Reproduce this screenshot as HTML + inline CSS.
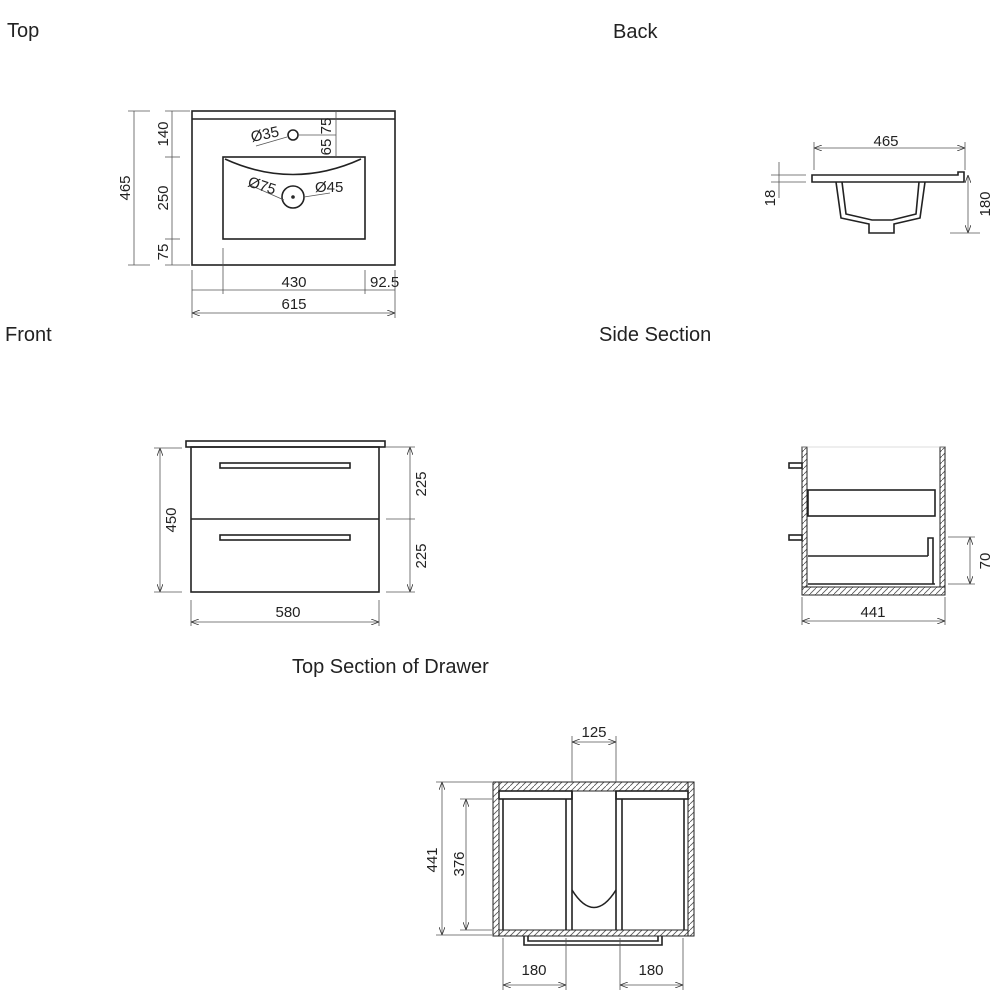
<!DOCTYPE html>
<html><head><meta charset="utf-8"><style>
html,body{margin:0;padding:0;background:#fff;}
svg{display:block;}
.t{font-family:"Liberation Sans",sans-serif;font-size:20px;fill:#222;}
.d{font-family:"Liberation Sans",sans-serif;font-size:15px;fill:#222;}
.k{stroke:#222;fill:none;stroke-width:1.6;}
.hz{stroke:#222;stroke-width:1;fill:url(#hx);}
.l{stroke:#555;fill:none;stroke-width:0.8;}
.h{stroke:#555;stroke-width:0.8;}
</style></head><body>
<svg width="1000" height="1000" viewBox="0 0 1000 1000" xmlns="http://www.w3.org/2000/svg">
<defs>
<pattern id="hx" width="6" height="6" patternUnits="userSpaceOnUse"><rect width="6" height="6" fill="#fff"/><path d="M-1 7L7 -1" class="h"/></pattern>
<marker id="a" markerWidth="8" markerHeight="6" refX="8" refY="3" orient="auto-start-reverse" markerUnits="userSpaceOnUse"><path d="M0 0L8 3L0 6" fill="none" stroke="#333" stroke-width="0.8"/></marker>
</defs>
<text class="t" x="7" y="37">Top</text>
<text class="t" x="613" y="38">Back</text>
<text class="t" x="5" y="341">Front</text>
<text class="t" x="599" y="341">Side Section</text>
<text class="t" x="292" y="673">Top Section of Drawer</text>

<!-- TOP VIEW -->
<rect class="k" x="192" y="111" width="203" height="154"/>
<line class="k" x1="192" y1="119" x2="395" y2="119" stroke-width="1.2"/>
<rect class="k" x="223" y="157" width="142" height="82"/>
<path class="k" d="M225 159 Q293 190 361 159" stroke-width="1.2"/>
<circle class="k" cx="293" cy="135" r="5" stroke-width="1"/>
<circle class="k" cx="293" cy="197" r="11" stroke-width="1.2"/>
<circle class="k" cx="293" cy="197" r="1" stroke-width="1"/>
<line class="l" x1="298" y1="135" x2="336" y2="135"/>
<line class="l" x1="256" y1="146" x2="287" y2="137"/>
<line class="l" x1="250" y1="185" x2="284" y2="200"/>
<line class="l" x1="304" y1="197" x2="330" y2="193"/>
<text class="d" x="252" y="142" transform="rotate(-12 252 142)">Ø35</text>
<text class="d" x="247" y="186" transform="rotate(18 247 186)">Ø75</text>
<text class="d" x="315" y="192">Ø45</text>
<line class="l" x1="336" y1="111" x2="336" y2="157"/>
<text class="d" x="0" y="0" transform="translate(331 126) rotate(-90)" text-anchor="middle">75</text>
<text class="d" x="0" y="0" transform="translate(331 147) rotate(-90)" text-anchor="middle">65</text>
<line class="l" x1="134" y1="111" x2="134" y2="265"/>
<line class="l" x1="128" y1="111" x2="150" y2="111"/><line class="l" x1="128" y1="265" x2="150" y2="265"/>
<text class="d" transform="translate(130 188) rotate(-90)" text-anchor="middle">465</text>
<line class="l" x1="172" y1="111" x2="172" y2="265"/>
<line class="l" x1="165" y1="111" x2="190" y2="111"/><line class="l" x1="165" y1="157" x2="180" y2="157"/>
<line class="l" x1="165" y1="239" x2="180" y2="239"/><line class="l" x1="165" y1="265" x2="190" y2="265"/>
<text class="d" transform="translate(168 134) rotate(-90)" text-anchor="middle">140</text>
<text class="d" transform="translate(168 198) rotate(-90)" text-anchor="middle">250</text>
<text class="d" transform="translate(168 252) rotate(-90)" text-anchor="middle">75</text>
<line class="l" x1="223" y1="248" x2="223" y2="294"/>
<line class="l" x1="365" y1="270" x2="365" y2="294"/>
<line class="l" x1="192" y1="270" x2="192" y2="318"/>
<line class="l" x1="395" y1="270" x2="395" y2="318"/>
<line class="l" x1="192" y1="290" x2="395" y2="290"/>
<text class="d" x="294" y="287" text-anchor="middle">430</text>
<text class="d" x="370" y="287">92.5</text>
<line class="l" x1="192" y1="313" x2="395" y2="313" marker-start="url(#a)" marker-end="url(#a)"/>
<text class="d" x="294" y="309" text-anchor="middle">615</text>

<!-- BACK -->
<line class="l" x1="814" y1="148" x2="965" y2="148" marker-start="url(#a)" marker-end="url(#a)"/>
<line class="l" x1="814" y1="142" x2="814" y2="170"/><line class="l" x1="965" y1="142" x2="965" y2="170"/>
<text class="d" x="886" y="146" text-anchor="middle">465</text>
<path class="k" d="M812 175 L958 175 L958 172 L964 172 L964 182 L812 182 Z" stroke-width="1.3"/>
<path class="k" d="M836 182 L841 218 L869 224 L869 233 L894 233 L894 224 L920 218 L925 182" stroke-width="1.3"/>
<path class="k" d="M842 182 L846 214 L872 220 L892 220 L916 214 L919 182" stroke-width="1"/>
<line class="l" x1="779" y1="162" x2="779" y2="198"/>
<line class="l" x1="771" y1="175" x2="806" y2="175"/><line class="l" x1="771" y1="182" x2="806" y2="182"/>
<text class="d" transform="translate(775 198) rotate(-90)" text-anchor="middle">18</text>
<line class="l" x1="968" y1="175" x2="968" y2="233" marker-start="url(#a)" marker-end="url(#a)"/>
<line class="l" x1="950" y1="233" x2="980" y2="233"/>
<text class="d" transform="translate(990 204) rotate(-90)" text-anchor="middle">180</text>

<!-- FRONT -->
<rect class="k" x="186" y="441" width="199" height="6" stroke-width="1.3"/>
<rect class="k" x="191" y="447" width="188" height="145"/>
<line class="k" x1="191" y1="519" x2="379" y2="519"/>
<rect class="k" x="220" y="463" width="130" height="5" stroke-width="1.2"/>
<rect class="k" x="220" y="535" width="130" height="5" stroke-width="1.2"/>
<line class="l" x1="160" y1="448" x2="160" y2="592" marker-start="url(#a)" marker-end="url(#a)"/>
<line class="l" x1="154" y1="448" x2="182" y2="448"/><line class="l" x1="154" y1="592" x2="182" y2="592"/>
<text class="d" transform="translate(176 520) rotate(-90)" text-anchor="middle">450</text>
<line class="l" x1="410" y1="447" x2="410" y2="592" marker-start="url(#a)" marker-end="url(#a)"/>
<line class="l" x1="386" y1="447" x2="415" y2="447"/><line class="l" x1="386" y1="519" x2="415" y2="519"/><line class="l" x1="386" y1="592" x2="415" y2="592"/>
<text class="d" transform="translate(426 484) rotate(-90)" text-anchor="middle">225</text>
<text class="d" transform="translate(426 556) rotate(-90)" text-anchor="middle">225</text>
<line class="l" x1="191" y1="600" x2="191" y2="626"/><line class="l" x1="379" y1="600" x2="379" y2="626"/>
<line class="l" x1="191" y1="622" x2="379" y2="622" marker-start="url(#a)" marker-end="url(#a)"/>
<text class="d" x="288" y="617" text-anchor="middle">580</text>

<!-- SIDE SECTION -->
<rect x="802" y="447" width="5" height="148" class="hz"/>
<rect x="940" y="447" width="5" height="148" class="hz"/>
<rect x="802" y="587" width="143" height="8" class="hz"/>
<line x1="802" y1="447" x2="945" y2="447" stroke="#bbb" stroke-width="0.6"/>
<rect class="k" x="808" y="490" width="127" height="26" stroke-width="1.2"/>
<path class="k" d="M808 556 L928 556 M808 584 L935 584 M933 584 L933 538 L928 538 L928 556" stroke-width="1.2"/>
<rect class="k" x="789" y="463" width="13" height="5" stroke-width="1"/>
<rect class="k" x="789" y="535" width="13" height="5" stroke-width="1"/>
<line class="l" x1="948" y1="537" x2="975" y2="537"/><line class="l" x1="948" y1="584" x2="975" y2="584"/>
<line class="l" x1="970" y1="537" x2="970" y2="584" marker-start="url(#a)" marker-end="url(#a)"/>
<text class="d" transform="translate(990 561) rotate(-90)" text-anchor="middle">70</text>
<line class="l" x1="802" y1="597" x2="802" y2="625"/><line class="l" x1="945" y1="597" x2="945" y2="625"/>
<line class="l" x1="802" y1="621" x2="945" y2="621" marker-start="url(#a)" marker-end="url(#a)"/>
<text class="d" x="873" y="617" text-anchor="middle">441</text>

<!-- TOP SECTION OF DRAWER -->
<rect x="493" y="782" width="201" height="9" class="hz"/>
<rect x="493" y="930" width="201" height="6" class="hz"/>
<rect x="493" y="782" width="6" height="154" class="hz"/>
<rect x="688" y="782" width="6" height="154" class="hz"/>
<rect class="k" x="499" y="791" width="73" height="8" stroke-width="1.1"/>
<rect class="k" x="616" y="791" width="72" height="8" stroke-width="1.1"/>
<path class="k" d="M503 799 L503 930 M566 799 L566 930 M572 791 L572 930 M616 791 L616 930 M622 799 L622 930 M684 799 L684 930" stroke-width="1.1"/>
<path class="k" d="M572 890 Q594 925 616 890" stroke-width="1.2"/>
<path class="k" d="M524 936 L524 945 L662 945 L662 936 M528 936 L528 941 L658 941 L658 936" stroke-width="1.1"/>
<line class="l" x1="572" y1="736" x2="572" y2="782"/><line class="l" x1="616" y1="736" x2="616" y2="782"/>
<line class="l" x1="572" y1="742" x2="616" y2="742" marker-start="url(#a)" marker-end="url(#a)"/>
<text class="d" x="594" y="737" text-anchor="middle">125</text>
<line class="l" x1="436" y1="782" x2="492" y2="782"/><line class="l" x1="436" y1="935" x2="492" y2="935"/>
<line class="l" x1="442" y1="782" x2="442" y2="935" marker-start="url(#a)" marker-end="url(#a)"/>
<text class="d" transform="translate(437 860) rotate(-90)" text-anchor="middle">441</text>
<line class="l" x1="460" y1="799" x2="492" y2="799"/><line class="l" x1="460" y1="930" x2="492" y2="930"/>
<line class="l" x1="466" y1="799" x2="466" y2="930" marker-start="url(#a)" marker-end="url(#a)"/>
<text class="d" transform="translate(464 864) rotate(-90)" text-anchor="middle">376</text>
<line class="l" x1="503" y1="938" x2="503" y2="990"/><line class="l" x1="566" y1="938" x2="566" y2="990"/>
<line class="l" x1="620" y1="938" x2="620" y2="990"/><line class="l" x1="683" y1="938" x2="683" y2="990"/>
<line class="l" x1="503" y1="985" x2="566" y2="985" marker-start="url(#a)" marker-end="url(#a)"/>
<line class="l" x1="620" y1="985" x2="683" y2="985" marker-start="url(#a)" marker-end="url(#a)"/>
<text class="d" x="534" y="975" text-anchor="middle">180</text>
<text class="d" x="651" y="975" text-anchor="middle">180</text>
</svg>
</body></html>
